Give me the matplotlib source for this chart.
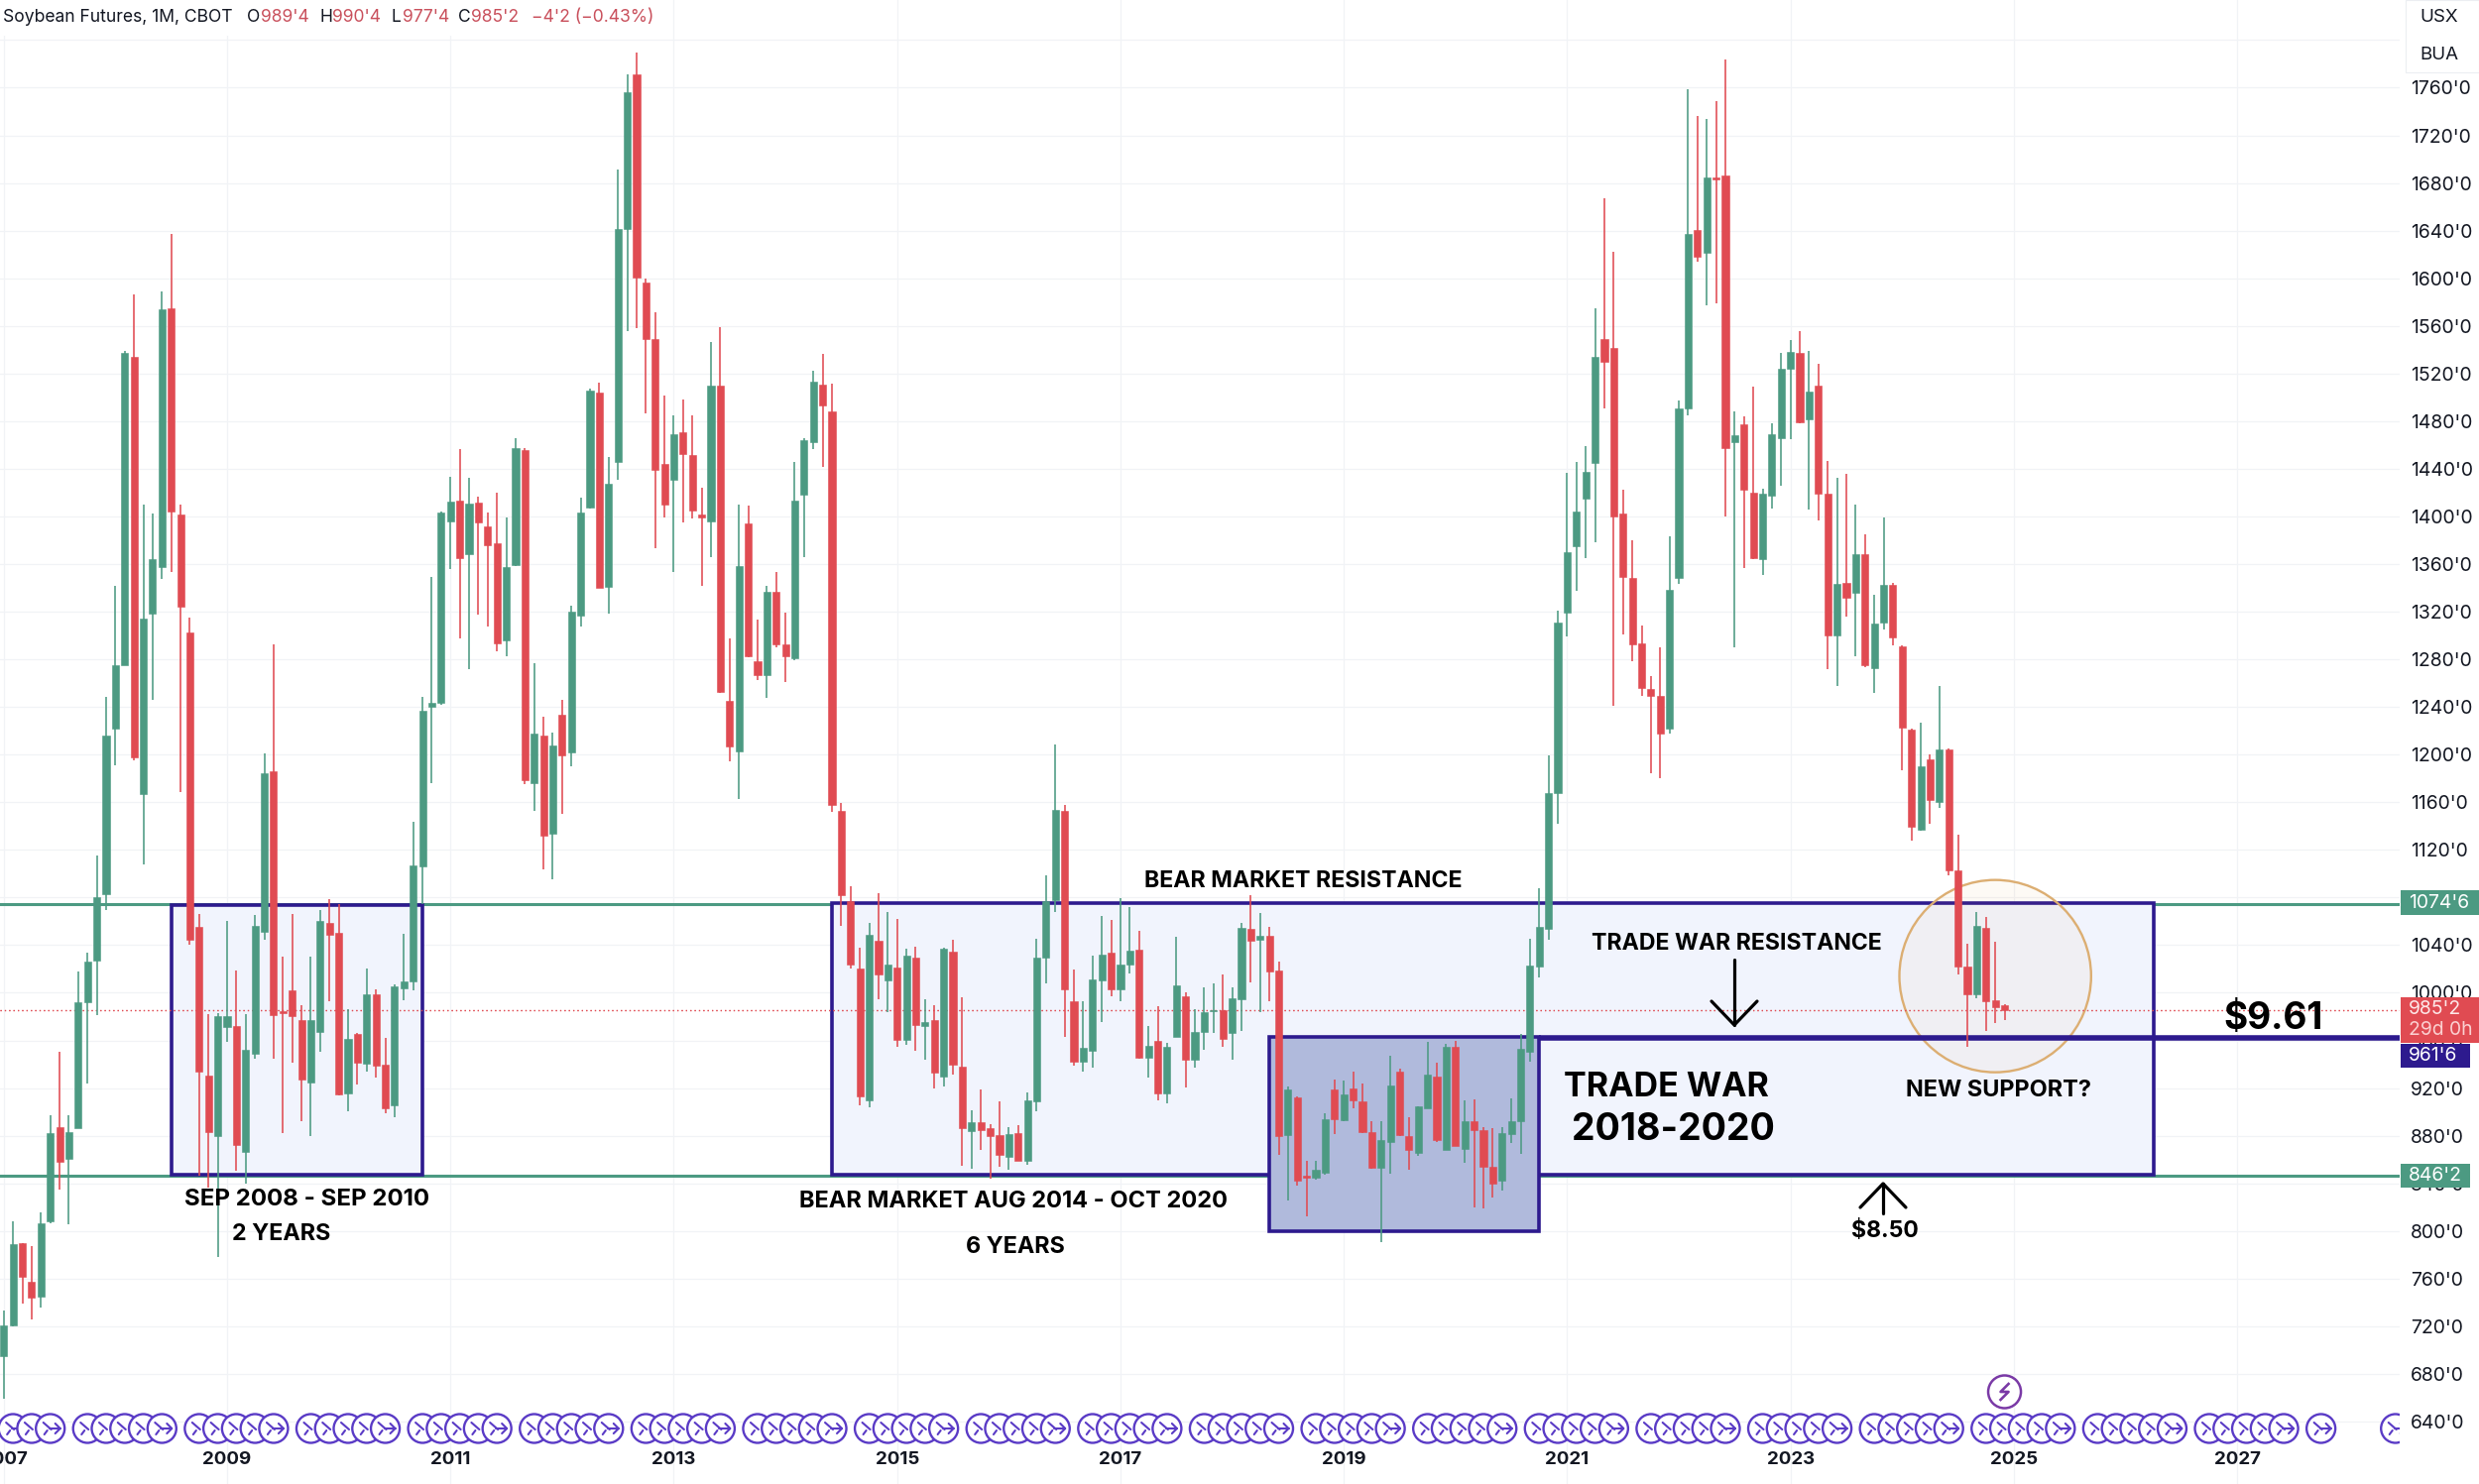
import matplotlib
matplotlib.use("Agg")
import matplotlib.pyplot as plt
from matplotlib.lines import Line2D
from matplotlib.patches import Rectangle, Ellipse, Circle
from matplotlib.transforms import IdentityTransform

plt.rcParams['font.family'] = ['Inter', 'DejaVu Sans']

# Monthly candles, Jan 2007 .. Dec 2024
opens = [
 695.3,720.3,789.7,757.2,744.5,808,886.9,860.3,886,992,1026.9,1083.2,
 1221.7,1275.4,1534,1166.9,1318.4,1357.4,1575.1,1402,1302.5,1055.4,930.5,880.1,
 971.3,972.5,866.2,948.7,1051.5,1186.3,984.8,1002.3,977.3,925,967,1058.6,
 1050.7,915.8,965.4,940.4,999.1,939.6,905.1,1003.9,1009.8,1106.2,1240,1243.6,
 1396,1413,1368.1,1411.9,1391.6,1377.7,1295.7,1359,1455.7,1176.4,1216.1,1134,
 1233.6,1202.2,1316.4,1407.1,1504.3,1341.1,1445.7,1641.2,1771.3,1596.6,1549.2,1444.2,
 1430.6,1470.4,1451.7,1402,1396,1509.8,1244.8,1202.6,1394.4,1278.6,1266.7,1336.3,
 1292.5,1281,1418.5,1462.8,1510.7,1488,1152.8,1076.6,1020.2,910,1043.8,1010,
 1021,960.5,1029.4,972.5,977.5,930,1034.4,937.8,884,891,886.5,880.4,
 862.3,882.3,859.3,908.6,1029.4,1078,1153,992.5,942,951.7,1010,1033.3,
 1002.7,1023.8,1035.8,945.3,959.4,915.3,962.8,996.9,944,966.7,985,985.5,
 966.4,994.7,1053.5,1044.6,1048.2,1018.8,880.4,912.5,846.5,844.5,849,919,
 893,920,909,883,853,875,933.5,880,865.5,903.4,930,868,
 955,869,892,885,853.8,842,881,892,950.5,1022,1054,1168,
 1319.2,1374.9,1415.2,1444.6,1549,1541.8,1402.8,1348.7,1293.7,1255.1,1249.1,1222,
 1348.7,1490.4,1640.9,1621,1684.3,1686.7,1462.2,1477.3,1420.3,1363.8,1417.1,1466.1,
 1524.3,1537.4,1481.7,1509.9,1419.5,1300.1,1343.9,1335.5,1368.6,1273,1311.2,1342.3,
 1291,1221,1137,1196,1160,1204,1103,1022,999,1054.7,994,989.5,
]
highs = [
 733.4,808,790,786.9,815.9,896.8,950.3,896.8,1017.7,1033.6,1115,1248.7,
 1341.5,1539.3,1586.2,1409.9,1402.8,1589,1637.6,1409.9,1315.2,1066.5,982,983.2,
 1060.6,1018.9,982,1065.3,1201.4,1292.5,1030,1066.5,990,1030,1069.7,1078.4,
 1074.5,986,966.6,1020.1,1003,962.2,1007,1049.5,1143.9,1248.7,1349,1404,
 1433,1456.5,1432.6,1416.7,1403.2,1419.9,1399.2,1465.6,1457.7,1276.6,1232,1218.9,
 1245.6,1325.2,1415.9,1507.4,1512.6,1449.7,1691.3,1771.3,1789.2,1599.8,1571.1,1501.5,
 1484.8,1498.3,1484.8,1423.9,1546.4,1559.2,1297.7,1409.9,1409.1,1313.6,1341.5,1353.4,
 1319.6,1445.7,1465.7,1522.6,1536.7,1511.4,1159,1089.7,1037.7,1058.5,1083.5,1067.7,
 1061.8,1037,1039,994.7,990,1037.7,1044.6,996,901,918.7,890,908.7,
 887.3,889,916.5,1045.5,1099,1208.6,1157.7,1019.7,993,1030.8,1064.6,1061.3,
 1079.3,1072.4,1052,972,988.6,958,1046.8,1000,986.4,1004.4,1008,1015,
 1004.4,1059,1082,1067.4,1055.2,1026.6,921.7,913,859,859,899,927,
 926,933.5,924,892,892.6,947,936,895.6,905,959,941.7,957,
 960,909.6,910.7,887,886,887,911.6,965.6,1045.4,1087.7,1199,1321,
 1436.7,1445.4,1459.4,1574.8,1667.2,1622.6,1422.7,1379.7,1308,1266.2,1289.7,1383.7,
 1497.2,1758.8,1736.1,1734.1,1748.9,1783.5,1488.4,1484.4,1509.1,1423.5,1478.1,1537,
 1548.2,1555.7,1538.6,1527.9,1446.6,1432.3,1435.5,1409.6,1384.9,1333.9,1398.8,1343.9,
 1291.5,1222,1227,1200,1258,1205,1133,1041.6,1068,1064,1043,990.5,
]
lows = [
 658.8,719.5,739.3,725.5,735.4,806.8,834.5,805.6,886,923.7,981.3,1069.3,
 1190.7,1275,1195,1107.4,1245.6,1347.4,1353,1168.8,1040,846.4,836.5,777.8,
 958.6,850.4,839.7,944.4,1044.7,944.4,882.1,941.6,892,880.1,950.7,993,
 913.8,900.8,922.6,933.7,928.9,898.8,895.2,994,1001.9,1074.5,1176.4,1241.6,
 1356.2,1297.3,1271.4,1317.2,1307.6,1286.6,1282.6,1358.2,1175.6,1152.6,1103.4,1095.1,
 1150.6,1190,1307.2,1407,1340,1318.4,1431,1556,1558,1486.3,1373.3,1398.8,
 1353,1395.2,1398,1341.5,1366,1252,1194.2,1162.9,1281.4,1262.7,1248,1290.5,
 1260.7,1279.2,1365.8,1456.4,1441.9,1152.1,1056.2,1020,905.3,903.7,994.7,984,
 955,956.4,950.9,944,919.7,921,931.7,854.9,852.6,868,843.8,853.5,
 851.8,859,855.4,900.9,1008,1068,963,938.4,933.6,937,975.3,997,
 992.5,1016.3,944.7,929.2,909.5,907.3,962.8,920.3,937.5,952.2,966.4,954.4,
 944.2,967.8,1009,983.6,992.5,864,826,838,812,843,847,881,
 892.6,903,882.4,852,790.4,848,879.5,851.8,863.4,903,875,867.8,
 871,857,820,818.8,828,833.6,874,865,942,1013,1044.5,1142,
 1298.9,1337.9,1365,1378.5,1490.4,1241.2,1301.3,1278.2,1249.5,1184.6,1180,1217.3,
 1343.1,1485.2,1613.9,1577.2,1578.8,1399.6,1289.7,1356.6,1363.8,1350.6,1406.4,1425.5,
 1465.3,1478.1,1405.6,1396.8,1271.4,1257.5,1316,1283,1273.4,1251.5,1305.3,1292,
 1187,1127.7,1136,1142,1155,1099,1015,954.5,995,967.7,975,977.5,
]
closes = [
 720.3,788.9,761.9,744.1,806.8,882.1,858.3,882.9,992,1026,1080.4,1215.7,
 1275.4,1537.3,1197.4,1314.4,1364.2,1574.3,1404,1324.4,1044.7,933.7,883.3,980.5,
 980.5,872.2,952.3,1055.8,1184.3,981.3,983.2,980.1,926.9,976.9,1060.6,1048.7,
 914.6,961.4,941.6,999.1,938.4,902.7,1005.8,1009.8,1107,1236.8,1243.6,1403.2,
 1412.7,1365.4,1410.7,1394.8,1376.1,1293.7,1357.4,1457.7,1178.8,1217.7,1132,1208,
 1199.4,1320.4,1403.2,1505.8,1340.3,1427.8,1641.2,1756.6,1601,1549.2,1439,1409.9,
 1468.8,1452.5,1404.8,1399.2,1510.2,1252.7,1206.5,1358.2,1283,1266.7,1337.1,1292.5,
 1283,1413.7,1464.2,1513.3,1493.2,1157.7,1082.2,1023.8,912.8,1048.8,1015.5,1023.3,
 960.5,1031.3,973,975.8,932.8,1037,939.5,886.5,891,884.3,880,863.5,
 881.5,859.3,910,1029.4,1077.4,1153.6,1002.5,942.5,953.6,1011.3,1032,1002.7,
 1023.8,1035,945.3,955.8,915.3,954.4,1006.6,944,967.5,984,985.8,961,
 995.2,1054.9,1043.8,1048.2,1017.7,879.5,918.6,842,844.5,851,894,894,
 914.5,909.6,883,853,876.6,922,880.4,868,905,931,876,955,
 871,892,885,854,840,882,891.8,953,1023,1055.6,1168,1311,
 1369.8,1404,1437.1,1533.8,1530.2,1399.6,1349.4,1292.9,1256.3,1249.5,1217.3,1338.7,
 1490.4,1636.9,1618.2,1684.3,1683.1,1457.8,1468.1,1422.3,1364.6,1419.5,1469.3,1523.9,
 1537.8,1478.9,1505.2,1419.5,1300.1,1343.5,1332,1368.6,1275,1310.4,1342.7,1298.5,
 1222.8,1139.4,1190.5,1162,1204.5,1103,1021.7,999,1056,993,988,985.25,
]

year_ticks = list(range(0, 241, 24))
year_labels = ['2007','2009','2011','2013','2015','2017','2019','2021','2023','2025','2027']
price_ticks = list(range(640, 1801, 40))
price_labels = [f"{p}'0" for p in price_ticks[:-1]] + ['']

resistance = 1074.75
support = 846.25
trade_war_line = 961.75
last_close = 985.25

# Roll-over markers: month index, arrow flag
roll_plain = [3] + [i + k for i in range(9, 249, 12) for k in (0, 2, 4, 6)]
roll_arrow = [1, 5] + [i for i in range(17, 250, 12)] + [249, 257]

GREEN, RED, NAVY = '#4c9a82', '#e04b52', '#2d1a8e'
FILL = '#f1f4fd'
W, H = 2500, 1497
fig = plt.figure(figsize=(W/100, H/100), dpi=100, facecolor='white')
AXR = 2420
ax = fig.add_axes([0, 0, AXR/W, 1])
MPX = 9.385
PPX = 1.2013
X0 = 3.76
ax.set_xlim((0 - X0)/MPX, (AXR - X0)/MPX)
ax.set_ylim(1760 - (H - 88.5)/PPX, 1760 + 88.5/PPX)
ax.autoscale(False)
for s in ax.spines.values():
    s.set_visible(False)
ax.set_xticks(year_ticks, year_labels, fontsize=13.5, fontweight='bold', color='#131722')
ax.set_yticks(price_ticks, price_labels, fontsize=13.9, color='#131722')
ax.yaxis.tick_right()
ax.tick_params(axis='x', length=0, pad=-24)
ax.tick_params(axis='y', length=0, pad=8)
ax.grid(True, color='#f1f3f6', lw=0.9)
ax.set_axisbelow(True)

# levels
ax.axhline(resistance, color=GREEN, lw=2.2, zorder=1)
ax.axhline(support, color=GREEN, lw=2.2, zorder=1)
ax.axhline(last_close, color=RED, lw=0.9, ls=(0, (1, 2.5)), zorder=1.5)

# boxes
def box(x0, x1, y0, y1, fc, z):
    ax.add_patch(Rectangle((x0, y0), x1 - x0, y1 - y0, fc=fc, ec=NAVY, lw=2.6, zorder=z))

box(18, 45, 847.5, 1073.5, FILL, 1.2)
box(89, 231, 847.5, 1075.5, FILL, 1.2)
ax.add_patch(Ellipse((214, 1014), 20.6, 161.5, fc='#e8a040', alpha=0.05, ec='none', zorder=1.3))
ax.add_patch(Ellipse((214, 1014), 20.6, 161.5, fc='none', ec='#dcae72', lw=1.7, zorder=1.4))
ax.axhline(last_close, color=RED, lw=0.9, ls=(0, (1, 2.5)), zorder=1.5)
box(136, 165, 800, 963, '#b0badc', 1.6)
ax.plot([165, 258], [trade_war_line]*2, color=NAVY, lw=4, zorder=1.7, solid_capstyle='butt')

# candles
for i, (o, h, l, c) in enumerate(zip(opens, highs, lows, closes)):
    col = GREEN if c >= o else RED
    ax.vlines(i, l, h, color=col, lw=1.15, zorder=3)
    ax.bar(i, abs(c - o), bottom=min(o, c), width=0.76, color=col, edgecolor=col, lw=0.4, zorder=3.1)

# rollover icons
ICON = '#5a3bc6'
y_icon = 1760 - (1441 - 88.5)/PPX
fig.canvas.draw()
def seg(xs, ys, cx, cy, z, lw=1.5):
    ax.add_line(Line2D([cx + a for a in xs], [cy + b for b in ys], color=ICON, lw=lw,
                       transform=IdentityTransform(), zorder=z, solid_capstyle='round'))
icons = sorted([(i, False) for i in roll_plain] + [(i, True) for i in roll_arrow])
for n, (i, arrow) in enumerate(icons):
    cx, cy = ax.transData.transform((i, y_icon))
    z = 4 + n*0.01
    ax.add_patch(Circle((cx, cy), 14.5, fc='white', ec=ICON, lw=1.7, transform=IdentityTransform(), zorder=z))
    seg([-7, 1], [6, -1], cx, cy, z)
    seg([-6, -3], [-6, -2], cx, cy, z)
    if arrow:
        seg([-1, 10], [0, 0], cx, cy, z)
        seg([5, 10, 5], [5, 0, -5], cx, cy, z)

# lightning icon
cx, cy = ax.transData.transform((215, 1760 - (1404 - 88.5)/PPX))
ax.add_patch(Circle((cx, cy), 16.5, fc='white', ec='#7a3aa6', lw=1.8, transform=IdentityTransform(), zorder=5))
ax.add_line(Line2D([cx+4, cx-4, cx+4, cx-4], [cy+8, cy, cy, cy-8], color='#7a3aa6', lw=1.9,
                   transform=IdentityTransform(), zorder=5))

def T(px, py, s, size, ha='center', weight='bold', color='black', **kw):
    fig.text(px/W, 1 - py/H, s, fontsize=size, ha=ha, va='center', fontweight=weight, color=color, zorder=20, **kw)

for px, py, s, size in [
    (1314, 889, 'BEAR MARKET RESISTANCE', 16.7),
    (1751, 952, 'TRADE WAR RESISTANCE', 16.6),
    (310, 1210, 'SEP 2008 - SEP 2010', 17.3),
    (284, 1245, '2 YEARS', 16.8),
    (1022, 1212, 'BEAR MARKET AUG 2014 - OCT 2020', 17),
    (1024, 1258, '6 YEARS', 16.8),
    (1680, 1097, 'TRADE WAR', 24.5),
    (1687, 1140, '2018-2020', 27),
    (2016, 1100, 'NEW SUPPORT?', 16.9),
    (1901, 1242, '$8.50', 16.6),
    (2293, 1028, '$9.61', 26.6),
]:
    T(px, py, s, size)

# arrows (figure pixel coordinates)
def L(xs, ys, lw=2.3):
    fig.add_artist(Line2D([x/W for x in xs], [1 - y/H for y in ys], color='black', lw=lw, zorder=20,
                          solid_capstyle='round', solid_joinstyle='round'))
L([1749, 1749], [968, 1034])
L([1726, 1749, 1772], [1010, 1034, 1010])
L([1899, 1899], [1194, 1224])
L([1876, 1899, 1922], [1218, 1194, 1218])

# price tags
def tag(x0, x1, y0, y1, color):
    fig.add_artist(Rectangle((x0/W, 1 - y1/H), (x1 - x0)/W, (y1 - y0)/H, fc=color, ec='none',
                             transform=fig.transFigure, zorder=15))
tag(2421, 2500, 898, 923, GREEN)
T(2429, 911, "1074'6", 13.9, ha='left', weight='normal', color='white')
tag(2421, 2500, 1006, 1052, RED)
T(2429, 1018, "985'2", 13.9, ha='left', weight='normal', color='#fde8e8')
T(2429, 1039, "29d 0h", 13.9, ha='left', weight='normal', color='#fbd0d0')
tag(2421, 2491, 1052.5, 1077, NAVY)
T(2429, 1065, "961'6", 13.9, ha='left', weight='normal', color='white')
tag(2421, 2491, 1173.5, 1198, GREEN)
T(2429, 1186, "846'2", 13.9, ha='left', weight='normal', color='white')

# top right box
fig.add_artist(Rectangle((2426/W, 1 - 73/H), 74/W, 73/H, fc='white', ec='#eceef2', lw=0.8,
                         transform=fig.transFigure, zorder=15))
T(2440, 18, 'USX', 13.5, ha='left', weight='normal', color='#131722')
T(2440, 55, 'BUA', 13.5, ha='left', weight='normal', color='#131722')

# header
DK, LR = '#131722', '#c9505c'
fig.add_artist(Rectangle((0, 1 - 36/H), 670/W, 36/H, fc='white', ec='none', transform=fig.transFigure, zorder=14))
for px, s, c in [(3, 'Soybean Futures, 1M, CBOT', DK), (249, 'O', DK), (263, "989'4", LR), (322, 'H', DK),
                 (335, "990'4", LR), (395, 'L', DK), (406, "977'4", LR), (462, 'C', DK), (475, "985'2", LR),
                 (536, "\u22124'2 (\u22120.43%)", LR)]:
    T(px, 18, s, 12.6, ha='left', weight='normal', color=c)

fig.savefig('out.png', dpi=100)
